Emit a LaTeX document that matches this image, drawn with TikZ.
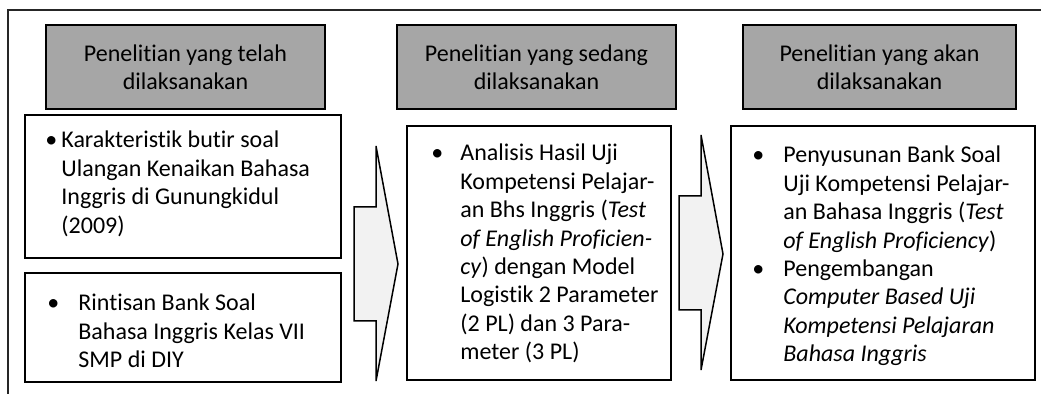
\documentclass[tikz,border=0pt]{standalone}
\usepackage{fontspec}
\setmainfont{Carlito}[Ligatures=NoCommon]
\usepackage{tikz}
\definecolor{abu}{HTML}{A6A6A6}
\definecolor{abumuda}{HTML}{F2F2F2}
\definecolor{garis}{HTML}{262626}
\newcommand{\butir}[2]{\begin{tabular}[t]{@{}p{#1}@{}l@{}}#2\end{tabular}}

\begin{document}
\begin{tikzpicture}[x=0.5pt,y=-0.5pt,font=\fontsize{12}{14.2}\selectfont,
  judul/.style={draw=black,line width=1pt,fill=abu,align=center,inner sep=0pt,minimum height=42pt},
  kotak/.style={draw=black,line width=0.75pt,inner sep=0pt},
  isi/.style={anchor=base west,inner sep=0pt},
  panah/.style={draw=black,line width=0.75pt,fill=abumuda,line join=miter}]
\useasboundingbox (0,0) rectangle (1041,394);
%\draw[step=50,gray,very thin] (0,0) grid (1041,394);
\draw[garis,line width=0.8pt] (8,394) -- (8,10) -- (1041,10);

\node[judul,minimum width=139.5pt] (judul1) at (185.5,67) {Penelitian yang telah\\dilaksanakan};
\node[judul,minimum width=139.5pt] (judul2) at (536.5,67) {Penelitian yang sedang\\dilaksanakan};
\node[judul,minimum width=136.5pt] (judul3) at (879.5,67) {Penelitian yang akan\\dilaksanakan};

\node[kotak,minimum width=158pt,minimum height=71.5pt] (kotak1a) at (183,186.5) {};
\node[kotak,minimum width=158pt,minimum height=54.5pt] (kotak1b) at (183,327.5) {};
\node[kotak,minimum width=132pt,minimum height=127pt] (kotak2) at (539,253) {};
\node[kotak,minimum width=152pt,minimum height=127pt] (kotak3) at (883,253) {};

\node[isi] (isi1a) at (45,148) {\butir{8pt}{\textbullet & Karakteristik butir soal\\
  & Ulangan Kenaikan Bahasa\\ & Inggris di Gunungkidul\\ & (2009)}};
\node[isi] (isi1b) at (47,311) {\butir{15.5pt}{\textbullet & Rintisan Bank Soal\\
  & Bahasa Inggris Kelas VII\\ & SMP di DIY}};
\node[isi] (isi2) at (431,161) {\butir{14.5pt}{\textbullet & Analisis Hasil Uji\\
  & Kompetensi Pelajar-\\ & an Bhs Inggris (\textit{Test}\\ & \textit{of English Proficien-}\\
  & \textit{cy}) dengan Model\\ & Logistik 2 Parameter\\ & (2 PL) dan 3 Para-\\ & meter (3 PL)}};
\node[isi] (isi3) at (752,163) {\butir{15.5pt}{\textbullet & Penyusunan Bank Soal\\
  & Uji Kompetensi Pelajar-\\ & an Bahasa Inggris (\textit{Test}\\ & \textit{of English Proficiency})\\
  \textbullet & Pengembangan\\ & \textit{Computer Based Uji}\\ & \textit{Kompetensi Pelajaran}\\ & \textit{Bahasa Inggris}}};

\draw[panah] (354,207) -- (376,207) -- (376,146) -- (398,264) -- (376,381) -- (376,321) -- (354,321) -- cycle;
\draw[panah] (679,196) -- (701,196) -- (701,135) -- (723,254) -- (701,370) -- (701,310) -- (679,310) -- cycle;

\end{tikzpicture}
\end{document}
